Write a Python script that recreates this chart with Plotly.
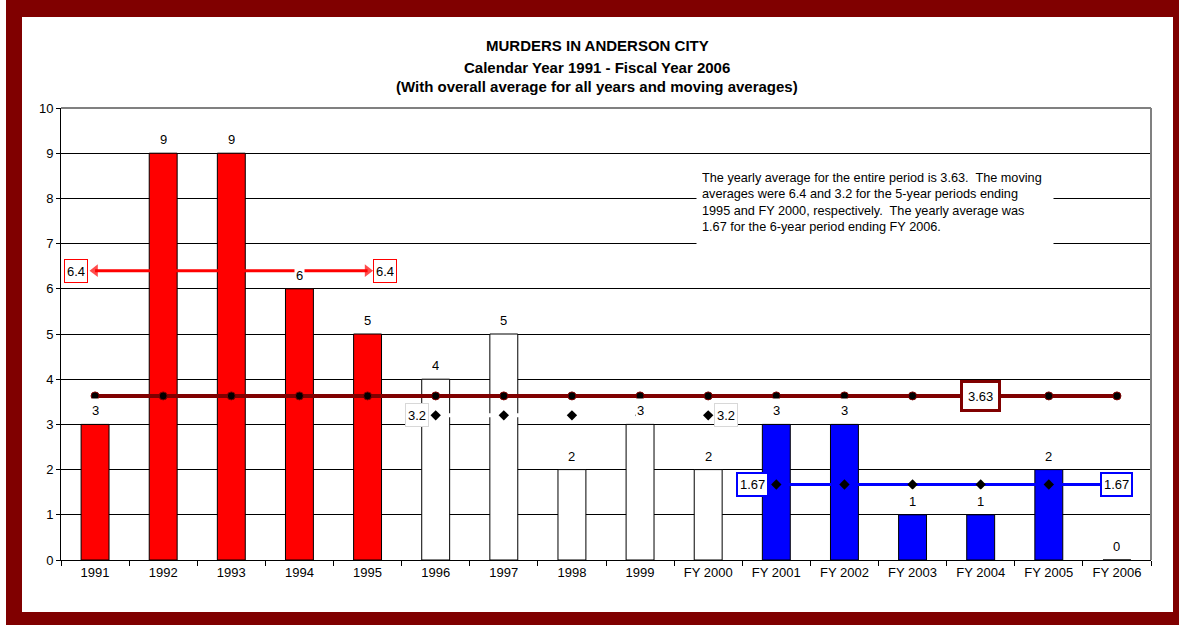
import plotly.graph_objects as go

categories = ["1991", "1992", "1993", "1994", "1995", "1996", "1997", "1998",
              "1999", "FY 2000", "FY 2001", "FY 2002", "FY 2003", "FY 2004",
              "FY 2005", "FY 2006"]
murders = [3, 9, 9, 6, 5, 4, 5, 2, 3, 2, 3, 3, 1, 1, 2, 0]
bar_colors = ["#FF0000"] * 5 + ["#FFFFFF"] * 5 + ["#0000FF"] * 6

overall_avg = 3.63
avg_5yr_1995 = 6.4
avg_5yr_2000 = 3.2
avg_6yr_2006 = 1.67

cats_1995 = categories[0:5]
cats_2000 = categories[5:10]
cats_2006 = categories[10:16]

title_lines = ["MURDERS IN ANDERSON CITY",
               "Calendar Year 1991 - Fiscal Year 2006",
               "(With overall average for all years and moving averages)"]
note_text = ("The yearly average for the entire period is 3.63.\u00a0 The moving<br>"
             "averages were 6.4 and 3.2 for the 5-year periods ending<br>"
             "1995 and FY 2000, respectively.\u00a0 The yearly average was<br>"
             "1.67 for the 6-year period ending FY 2006.")

FONT = "Liberation Sans, Arial, sans-serif"
DARKRED = "#800000"

# pixel geometry helpers (plot area 61..1151 x, 108..560 y)
L, R, T, B = 61, 1151, 108, 560
def px(x):
    return (x - L) / (R - L)
def py(y):
    return (B - y) / (B - T)
def idx(c):
    return categories.index(c)

fig = go.Figure()

fig.add_trace(go.Bar(
    x=categories, y=murders, width=0.41,
    marker=dict(color=bar_colors, line=dict(color="black", width=1)),
    hoverinfo="x+y", showlegend=False))

fig.add_trace(go.Scatter(
    x=categories, y=[overall_avg] * len(categories), mode="lines+markers",
    line=dict(color=DARKRED, width=4),
    marker=dict(symbol="circle", size=8, color="black",
                line=dict(color=DARKRED, width=1)),
    showlegend=False))

fig.add_trace(go.Scatter(
    x=cats_1995, y=[avg_5yr_1995] * len(cats_1995), mode="lines+markers",
    line=dict(color="#FF0000", width=3),
    marker=dict(symbol=["triangle-left", "triangle-up", "triangle-up",
                        "triangle-up", "triangle-right"],
                size=[11, 7, 7, 7, 11], color="#FF0000",
                line=dict(width=0)),
    showlegend=False))

fig.add_trace(go.Scatter(
    x=cats_2000, y=[avg_5yr_2000] * len(cats_2000), mode="lines",
    line=dict(color="#FFFFFF", width=4),
    showlegend=False))
fig.add_trace(go.Scatter(
    x=cats_2000, y=[avg_5yr_2000] * len(cats_2000), mode="markers",
    marker=dict(symbol="diamond", size=8, color="black", line=dict(width=0)),
    showlegend=False))

fig.add_trace(go.Scatter(
    x=cats_2006, y=[avg_6yr_2006] * len(cats_2006), mode="lines+markers",
    line=dict(color="#0000FF", width=3),
    marker=dict(symbol="diamond", size=8, color="black", line=dict(width=0)),
    showlegend=False))

annotations = []
# value labels above bars
for c, v in zip(categories, murders):
    annotations.append(dict(
        x=idx(c), y=v, xref="x", yref="y", text=str(v), showarrow=False,
        yshift=14, bgcolor="white", borderpad=1, height=20,
        font=dict(family=FONT, size=13, color="black")))

def box(c, y, text, xshift, border, bw=1, pad=2, h=18):
    annotations.append(dict(
        x=idx(c), y=y, xref="x", yref="y", text=text, showarrow=False,
        xshift=xshift, bgcolor="white", bordercolor=border, borderwidth=bw,
        borderpad=pad, height=h, font=dict(family=FONT, size=13, color="black")))

box(cats_1995[0], avg_5yr_1995, "6.4", -19, "#FF0000")
box(cats_1995[-1], avg_5yr_1995, "6.4", 17, "#FF0000")
box(cats_2000[0], avg_5yr_2000, "3.2", -19, "#D8D8D8")
box(cats_2000[-1], avg_5yr_2000, "3.2", 18, "#D8D8D8")
box(cats_2006[0], avg_6yr_2006, "1.67", -24, "#0000FF", bw=2, h=17)
box(cats_2006[-1], avg_6yr_2006, "1.67", 0, "#0000FF", bw=2, h=17)
box(categories[13], overall_avg, "3.63", 0, DARKRED, bw=3, pad=5, h=16)

# note box
annotations.append(dict(
    x=px(875), y=py(202.5), xref="paper", yref="paper", text=note_text,
    showarrow=False, align="left", valign="middle", width=346, height=79,
    bgcolor="white", borderpad=5, xanchor="center", yanchor="middle",
    font=dict(family=FONT, size=12.7, color="black")))

# title lines
for ty, t in zip([46, 67, 86], title_lines):
    annotations.append(dict(
        x=px(597), y=py(ty), xref="paper", yref="paper", text="<b>%s</b>" % t,
        showarrow=False, xanchor="center", yanchor="middle",
        font=dict(family=FONT, size=15, color="black")))

shapes = [
    dict(type="rect", xref="paper", yref="paper", layer="below",
         x0=px(6), x1=px(1179), y0=py(0), y1=py(625),
         fillcolor=DARKRED, line=dict(width=0)),
    dict(type="rect", xref="paper", yref="paper", layer="below",
         x0=px(22), x1=px(1173), y0=py(17), y1=py(612),
         fillcolor="white", line=dict(width=0)),
    dict(type="line", xref="paper", yref="paper", layer="above",
         x0=0, x1=1, y0=1, y1=1, line=dict(color="#808080", width=2)),
    dict(type="line", xref="paper", yref="paper", layer="above",
         x0=1, x1=1, y0=0, y1=1, line=dict(color="#808080", width=2)),
]

fig.update_layout(
    width=1179, height=625,
    margin=dict(l=L, r=1179 - R, t=T, b=625 - B),
    paper_bgcolor="white", plot_bgcolor="#C0C0C0",
    font=dict(family=FONT, size=13, color="black"),
    showlegend=False,
    annotations=annotations, shapes=shapes,
    xaxis=dict(type="category", categoryorder="array", categoryarray=categories,
               range=[-0.5, 15.5], showgrid=False, showline=True,
               linecolor="black", linewidth=1, ticks="outside",
               tickson="boundaries", ticklen=5, tickcolor="black",
               tickfont=dict(family=FONT, size=13, color="black"),
               zeroline=False, fixedrange=True),
    yaxis=dict(range=[0, 10], dtick=1, showgrid=True, gridcolor="black",
               gridwidth=1, showline=True, linecolor="black", linewidth=1,
               ticks="outside", ticklen=4, tickcolor="black",
               tickfont=dict(family=FONT, size=13, color="black"),
               zeroline=False, fixedrange=True),
)

fig.write_html("out.html", config={"displayModeBar": False},
               post_script="document.body.style.margin='0px';"
                           "document.body.style.overflow='hidden';")
